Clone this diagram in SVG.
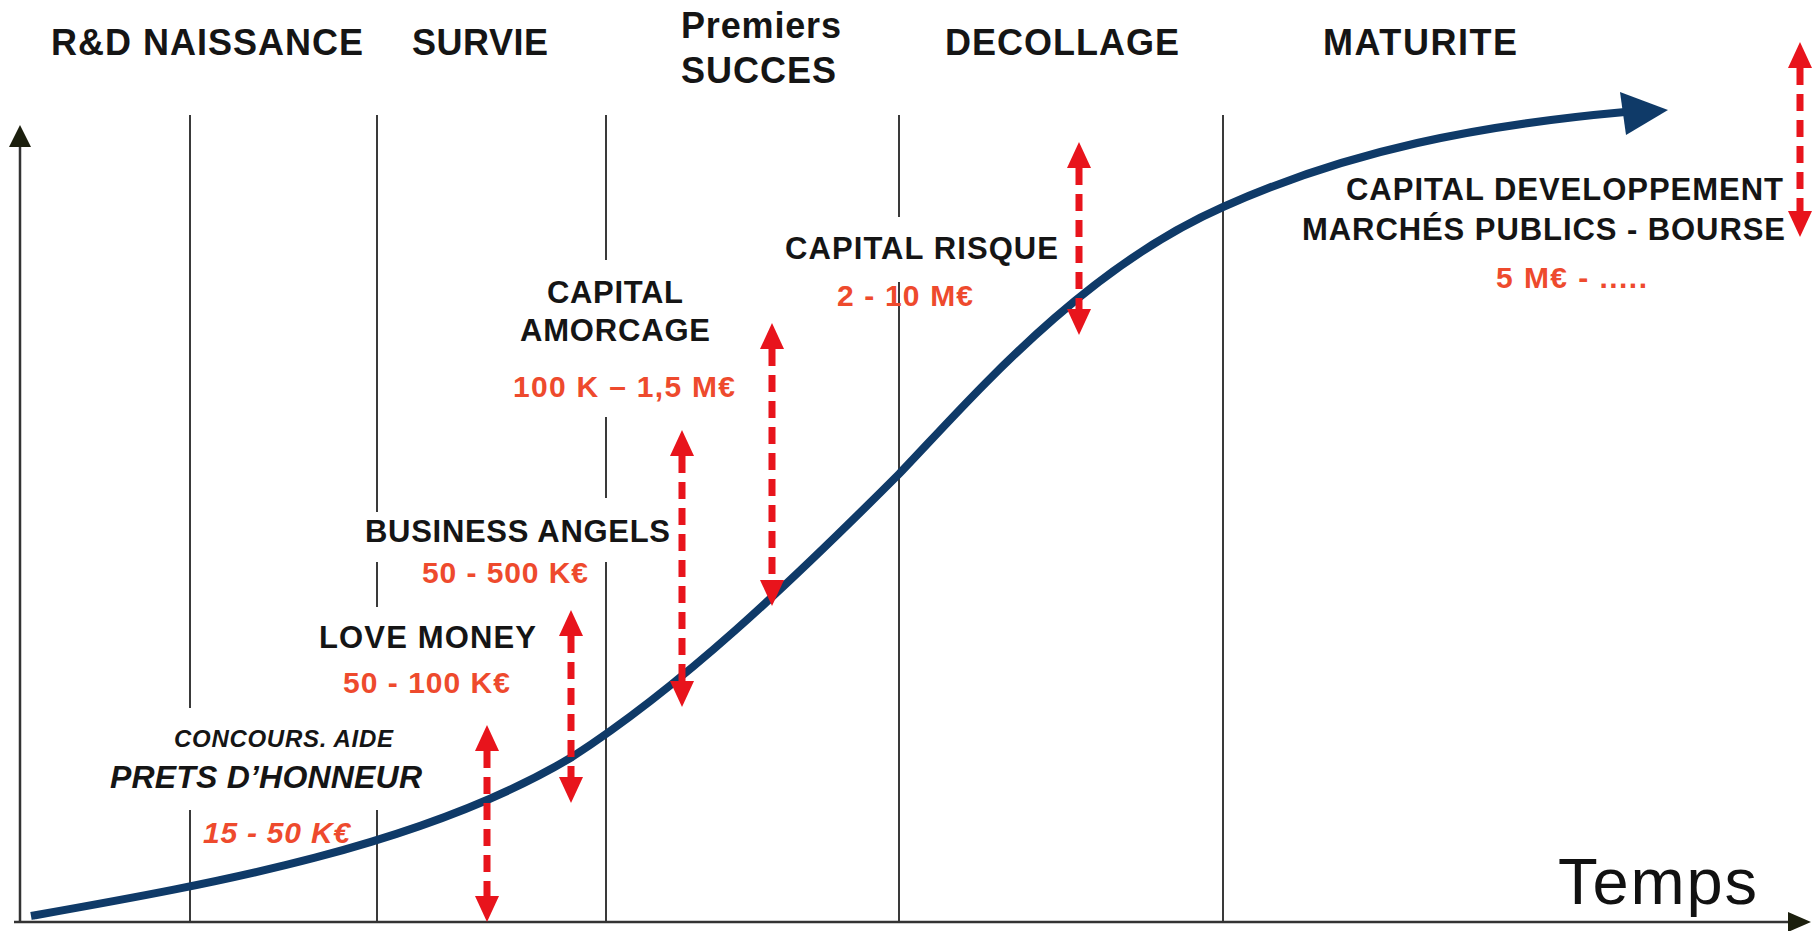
<svg xmlns="http://www.w3.org/2000/svg" width="1818" height="931" viewBox="0 0 1818 931">
<defs>
<style>
.t{font-family:"Liberation Sans",Arial,sans-serif;font-weight:bold;fill:#151515}
.h{font-size:36px}
.l{font-size:31px}
.r{fill:#ee4a2d;font-size:30px}
.it{font-style:italic}
.vl{stroke:#3a3a3a;stroke-width:2;fill:none}
.ax{stroke:#333;stroke-width:2.5;fill:none}
.ah{fill:#1c1f0e}
.rd{stroke:#e8141c;stroke-width:7;stroke-dasharray:17 9;fill:none;marker-start:url(#rh);marker-end:url(#rh)}
</style>
<marker id="rh" markerUnits="userSpaceOnUse" viewBox="0 0 26 24" refX="0" refY="12" markerWidth="26" markerHeight="24" orient="auto-start-reverse"><path d="M0,0 L26,12 L0,24 z" fill="#e8141c"/></marker>
</defs>
<rect width="1818" height="931" fill="#fff"/>
<g id="grid">
<path class="vl" d="M190,115V708M190,810V922"/>
<path class="vl" d="M377,115V512M377,562V607M377,810V922"/>
<path class="vl" d="M606,115V260M606,417V498M606,562V922"/>
<path class="vl" d="M899,115V217M899,282V922"/>
<path class="vl" d="M1223,115V922"/>
</g>
<g id="axes">
<path class="ax" d="M20,922V145"/>
<polygon class="ah" points="9,147 20,125 31,147"/>
<path class="ax" d="M14,922H1790"/>
<polygon class="ah" points="1788,912 1811,922 1788,932"/>
<text id="temps" x="1558" y="904" font-family="Liberation Sans, Arial, sans-serif" font-size="65" fill="#111" textLength="199">Temps</text>
</g>
<g id="phases" class="t h">
<text id="ph-rd" x="51" y="55" textLength="312">R&amp;D NAISSANCE</text>
<text id="ph-survie" x="412" y="55" textLength="136">SURVIE</text>
<text id="ph-succes" x="681" y="38" textLength="160">Premiers</text>
<text x="681" y="83" textLength="155">SUCCES</text>
<text id="ph-decollage" x="945" y="55" textLength="234">DECOLLAGE</text>
<text id="ph-maturite" x="1323" y="55" textLength="194">MATURITE</text>
</g>
<g id="connectors">
<path id="growth" d="M31,916 C211,884 422,847 572,757 C682,686 789,584 899,474 C970,400 1080,270 1223,207 C1350,150 1480,125 1625,112" fill="none" stroke="#0f3a68" stroke-width="8"/>
<polygon points="1620,92 1668,110 1626,135" fill="#0f3a68"/>
<line class="rd" x1="487" y1="751" x2="487" y2="896"/>
<line class="rd" x1="571" y1="636" x2="571" y2="777"/>
<line class="rd" x1="682" y1="456" x2="682" y2="681"/>
<line class="rd" x1="772" y1="349" x2="772" y2="580"/>
<line class="rd" x1="1079" y1="168" x2="1079" y2="309"/>
<line class="rd" x1="1800" y1="68" x2="1800" y2="211"/>
</g>
<g id="n-prets" class="t it">
<text x="174" y="747" font-size="24" textLength="219">CONCOURS. AIDE</text>
<text x="110" y="788" font-size="32" textLength="312">PRETS D’HONNEUR</text>
<text class="r" x="203" y="843" textLength="147">15 - 50 K€</text>
</g>
<g id="n-love" class="t l">
<text x="319" y="648" textLength="217">LOVE MONEY</text>
<text class="r" x="343" y="693" textLength="167">50 - 100 K€</text>
</g>
<g id="n-angels" class="t l">
<text x="365" y="542" textLength="305">BUSINESS ANGELS</text>
<text class="r" x="422" y="583" textLength="166">50 - 500 K€</text>
</g>
<g id="n-amorcage" class="t l">
<text x="547" y="303" textLength="136">CAPITAL</text>
<text x="520" y="341" textLength="190">AMORCAGE</text>
<text class="r" x="513" y="397" textLength="222">100 K – 1,5 M€</text>
</g>
<g id="n-risque" class="t l">
<text x="785" y="259" textLength="273">CAPITAL RISQUE</text>
<text class="r" x="837" y="306" textLength="136">2 - 10 M€</text>
</g>
<g id="n-dev" class="t l">
<text x="1346" y="200" textLength="437">CAPITAL DEVELOPPEMENT</text>
<text x="1302" y="240" textLength="483">MARCHÉS PUBLICS - BOURSE</text>
<text class="r" x="1496" y="288" textLength="151">5 M€ - .....</text>
</g>
</svg>
